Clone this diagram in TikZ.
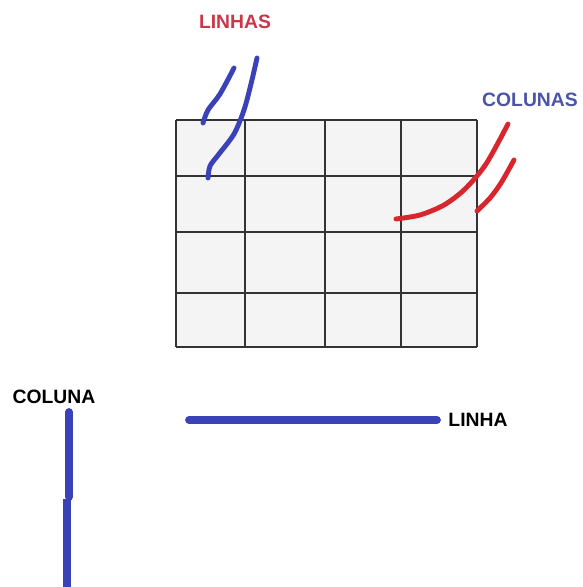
\documentclass[tikz,border=0pt]{standalone}
\usepackage{fontspec}
\setmainfont{Liberation Sans}
\usepackage{tikz}
\usetikzlibrary{positioning}
\definecolor{penblue}{HTML}{3B42B8}
\definecolor{penred}{HTML}{D8262E}
\definecolor{labred}{HTML}{C83848}
\definecolor{labblue}{HTML}{4A55A8}
\definecolor{cellgray}{HTML}{F4F4F4}

\begin{document}
\begin{tikzpicture}[
  x=0.02cm, y=-0.02cm,
  every node/.style={font=\bfseries\fontsize{11}{13}\selectfont, inner sep=0pt},
  gridline/.style={draw=black!80, line width=0.7pt},
  pen/.style={line width=2.8pt, line cap=round, line join=round},
  bar/.style={penblue, line width=4.4pt, line cap=round}
]
  \useasboundingbox (0,0) rectangle (582,587);

  % tabela
  \begin{scope}
    \fill[cellgray] (176,120) rectangle (477,347);
    \foreach \gx in {176,245,325,401,477}
      \draw[gridline] (\gx,120) -- (\gx,347);
    \foreach \gy in {120,176,232,293,347}
      \draw[gridline] (176,\gy) -- (477,\gy);

    \node[labred] (linhas) at (235,22) {LINHAS};
    \node[labblue] (colunas) at (530,100) {COLUNAS};

    % tracos a mao
    \draw[pen, penblue] plot[smooth] coordinates {(203,123) (208,110) (220,94) (234,68)};
    \draw[pen, penblue] plot[smooth] coordinates {(257,58) (251,84) (244,110) (234,134) (219,154) (210,166) (208,178)};
    \draw[pen, penred] plot[smooth] coordinates {(396,219) (420,215) (444,205) (465,189) (486,164) (508,124)};
    \draw[pen, penred] plot[smooth] coordinates {(477,211) (490,198) (501,183) (514,160)};
  \end{scope}

  % linha e coluna
  \begin{scope}
    \node (coluna) at (54,397) {COLUNA};
    \node (linha) at (478,420) {LINHA};
    \coordinate (ctop) at (69,412);
    \coordinate (cmid) at (69,497);
    \coordinate (cmid2) at (67,499);
    \coordinate (cbot) at (67,590);
    \coordinate (lstart) at (189,420);
    \coordinate (lend) at (437,420);
    \draw[bar] (ctop) -- (cmid);
    \draw[bar, line cap=butt] (cmid2) -- (cbot);
    \draw[bar] (lstart) -- (lend);
  \end{scope}
\end{tikzpicture}
\end{document}
